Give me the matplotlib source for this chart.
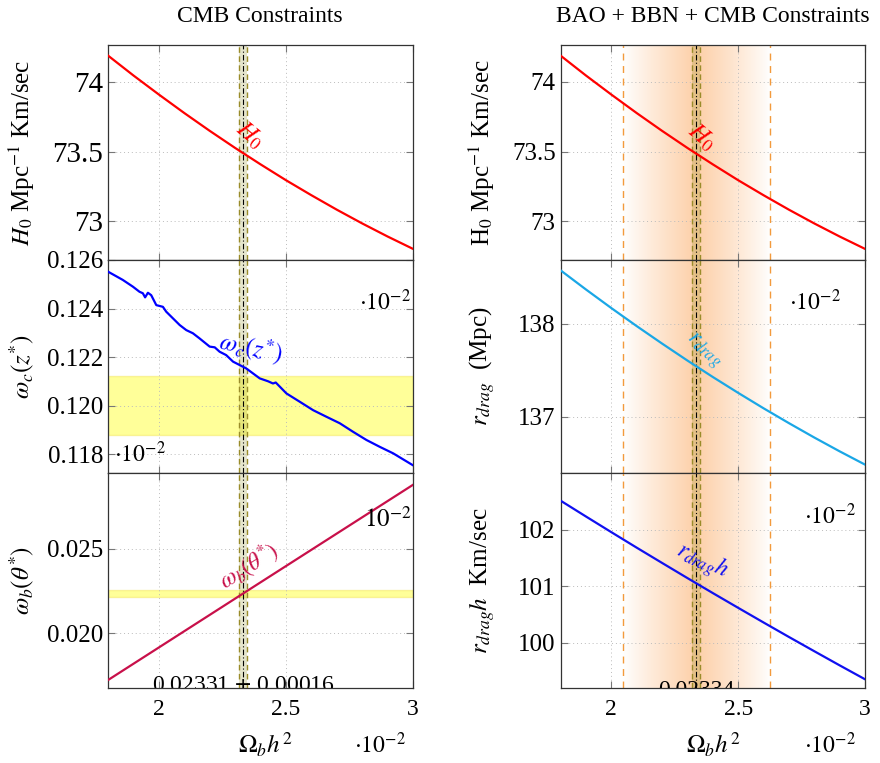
import numpy as np
import matplotlib
matplotlib.use('Agg')
import matplotlib.pyplot as plt
from matplotlib import transforms

plt.rcParams['font.family'] = ['Liberation Serif', 'DejaVu Serif']
plt.rcParams['mathtext.fontset'] = 'stix'

# x grid of Omega_b h^2 (in units of 1e-2)
x_h0 = [1.8, 1.9, 2.0, 2.1, 2.2, 2.3, 2.4, 2.5, 2.6, 2.7, 2.8, 2.9, 3.0]
h0 = [74.19, 74.047, 73.910, 73.777, 73.649, 73.526, 73.408, 73.294, 73.186, 73.082, 72.983, 72.889, 72.800]

x_wc = [1.80, 1.858, 1.898, 1.924, 1.937, 1.946, 1.957, 1.970, 1.990, 2.016, 2.029, 2.055,
        2.082, 2.108, 2.134, 2.160, 2.200, 2.220, 2.239, 2.265, 2.292, 2.344, 2.397, 2.430,
        2.449, 2.460, 2.502, 2.554, 2.607, 2.659, 2.712, 2.764, 2.817, 2.869, 2.922, 2.998]
wc = [0.12552, 0.12518, 0.12490, 0.12469, 0.12463, 0.12446, 0.12465, 0.12455, 0.12414, 0.12407,
      0.12387, 0.12360, 0.12332, 0.12311, 0.12298, 0.12277, 0.12243, 0.12240, 0.12222, 0.12208,
      0.12181, 0.12153, 0.12112, 0.12100, 0.12091, 0.12095, 0.12050, 0.12016, 0.11981, 0.11954,
      0.11927, 0.11892, 0.11858, 0.11830, 0.11803, 0.11755]

x_wb = [1.8, 2.4, 3.0]
wb = [0.01723, 0.02302, 0.02880]

x_rd = [1.8, 1.9, 2.0, 2.1, 2.2, 2.3, 2.4, 2.5, 2.6, 2.7, 2.8, 2.9, 3.0]
rdrag = [138.570, 138.365, 138.166, 137.973, 137.786, 137.604, 137.428, 137.258, 137.093,
         136.934, 136.780, 136.632, 136.490]
rdragh = [102.520, 102.239, 101.961, 101.686, 101.415, 101.146, 100.880, 100.618, 100.358,
          100.101, 99.848, 99.597, 99.350]

# constraints
cmb_c, cmb_err = 2.331, 0.016
bao_c, bao_err = 2.334, 0.017
bao_lo, bao_hi = 2.046, 2.626
wc_band = (0.11878, 0.12122)
wb_band = (0.02217, 0.02257)

W, H = 880, 763
fig = plt.figure(figsize=(W / 100, H / 100), dpi=100)

def rect(x0, x1, y0, y1):
    return [x0 / W, 1 - y1 / H, (x1 - x0) / W, (y1 - y0) / H]

rows = [(45, 260), (260, 473), (473, 688)]
cols = [(108, 413), (560.5, 865)]
axes = [[fig.add_axes(rect(c[0], c[1], r[0], r[1])) for r in rows] for c in cols]

olive = '#9a8c2a'

def style(ax, bottom=False, fs=17):
    ax.set_xlim(1.8, 3.0)
    ax.set_xticks([2.0, 2.5, 3.0])
    ax.set_xticklabels(['2', '2.5', '3'] if bottom else [])
    ax.tick_params(direction='in', top=True, right=True, length=5, color='#777777',
                   labelsize=fs, width=0.8)
    if bottom:
        ax.tick_params(axis='x', labelsize=17, pad=8)
    ax.grid(True, linestyle=(0, (1, 3)), color='#bbbbbb', linewidth=0.7)
    for s in ax.spines.values():
        s.set_color('#333333')
        s.set_linewidth(0.9)

def cmb_band(ax, c, e):
    ax.axvspan(c - e, c + e, color='#808000', alpha=0.2, lw=0, zorder=1)
    ax.axvline(c - e, color=olive, ls=(0, (4, 2.5)), lw=1.0, zorder=2)
    ax.axvline(c + e, color=olive, ls=(0, (4, 2.5)), lw=1.0, zorder=2)
    ax.axvline(c, color='black', ls=(0, (5, 2, 1, 2)), lw=0.8, zorder=2)

def bao_shade(ax):
    xs = np.linspace(bao_lo, bao_hi, 400)
    t = np.where(xs < bao_c, (xs - bao_lo) / (bao_c - bao_lo), (bao_hi - xs) / (bao_hi - bao_c))
    alpha = np.clip(t, 0, 1) ** 0.9
    img = np.zeros((1, len(xs), 4))
    img[..., 0] = 0.99
    img[..., 1] = 0.70
    img[..., 2] = 0.45
    img[..., 3] = alpha * 0.62
    y0, y1 = ax.get_ylim()
    ax.imshow(img, extent=[bao_lo, bao_hi, y0, y1], aspect='auto', zorder=0.5,
              interpolation='bilinear')
    ax.set_ylim(y0, y1)
    ax.set_xlim(1.8, 3.0)
    ax.axvline(bao_lo, color='#f39a3c', ls=(0, (5, 4)), lw=1.0, zorder=2)
    ax.axvline(bao_hi, color='#f39a3c', ls=(0, (5, 4)), lw=1.0, zorder=2)

# ---- left column
a1, a2, a3 = axes[0]
a1.plot(x_h0, h0, color='red', lw=1.6, zorder=3)
a1.set_ylim(72.72, 74.266)
a1.set_yticks([73, 73.5, 74])
a1.set_yticklabels(['73', '73.5', '74'])
a1.text(2.357, 73.62, '$H_0$', color='red', fontsize=18, rotation=-40, ha='center', va='center')

a2.axhspan(*wc_band, facecolor='yellow', alpha=0.4, edgecolor='#f2e040', lw=1, zorder=0.5)
a2.plot(x_wc, wc, color='blue', lw=1.6, zorder=3)
a2.set_ylim(0.11722, 0.126)
a2.set_yticks([0.118, 0.120, 0.122, 0.124, 0.126])
a2.set_yticklabels(['0.118', '0.120', '0.122', '0.124', '0.126'])
a2.text(2.36, 0.12237, r'$\omega_c(z^{*})$', color='blue', fontsize=18, rotation=-12,
        ha='center', va='center')
a2.text(0.908, 0.80, r'$\cdot 10^{-2}$', transform=a2.transAxes, fontsize=17, ha='center', va='center')
a2.text(0.105, 0.085, r'$\cdot 10^{-2}$', transform=a2.transAxes, fontsize=17, ha='center', va='center')

a3.axhspan(*wb_band, facecolor='yellow', alpha=0.4, edgecolor='#f2e040', lw=1, zorder=0.5)
a3.plot(x_wb, wb, color='#c8104a', lw=1.6, zorder=3)
a3.set_ylim(0.01676, 0.0295)
a3.set_yticks([0.020, 0.025])
a3.set_yticklabels(['0.020', '0.025'])
a3.text(2.357, 0.02395, r'$\omega_b(\theta^{*})$', color='#c8104a', fontsize=17, rotation=32,
        ha='center', va='center')
a3.text(0.918, 0.786, r'$10^{-2}$', transform=a3.transAxes, fontsize=18, ha='center', va='center')
tr = transforms.blended_transform_factory(a3.transData, a3.transAxes)
a3.text(2.331, -0.012, r'0.02331 $\pm$ 0.00016', transform=tr, fontsize=17, ha='center',
        va='baseline', clip_on=True)

for ax, fs in zip([a1, a2, a3], [21, 18, 18]):
    style(ax, bottom=(ax is a3), fs=fs)
    cmb_band(ax, cmb_c, cmb_err)

a1.set_ylabel(r'$H_0$ Mpc$^{-1}$ Km/sec', fontsize=18)
a2.set_ylabel(r'$\omega_c(z^{*})$', fontsize=18)
a3.set_ylabel(r'$\omega_b(\theta^{*})$', fontsize=18)
for ax in (a1, a2, a3):
    ax.yaxis.set_label_coords(-0.282, 0.5)
    ax.yaxis.label.set_va('center')

# ---- right column
b1, b2, b3 = axes[1]
b1.plot(x_h0, h0, color='red', lw=1.6, zorder=3)
b1.set_ylim(72.72, 74.266)
b1.set_yticks([73, 73.5, 74])
b1.set_yticklabels(['73', '73.5', '74'])
b1.text(2.357, 73.60, '$H_0$', color='red', fontsize=18, rotation=-40, ha='center', va='center')

b2.plot(x_rd, rdrag, color='#1aa7e6', lw=1.6, zorder=3)
b2.set_ylim(136.40, 138.68)
b2.set_yticks([137, 138])
b2.set_yticklabels(['137', '138'])
b2.text(2.365, 137.71, r'$r_{drag}$', color='#1aa7e6', fontsize=17, rotation=-40,
        ha='center', va='center')
b2.text(0.836, 0.80, r'$\cdot 10^{-2}$', transform=b2.transAxes, fontsize=17, ha='center', va='center')

b3.plot(x_rd, rdragh, color='#1010f0', lw=1.6, zorder=3)
b3.set_ylim(99.195, 103.01)
b3.set_yticks([100, 101, 102])
b3.set_yticklabels(['100', '101', '102'])
b3.text(2.357, 101.44, r'$r_{drag}h$', color='#1010f0', fontsize=17, rotation=-25,
        ha='center', va='center')
b3.text(0.885, 0.80, r'$\cdot 10^{-2}$', transform=b3.transAxes, fontsize=17, ha='center', va='center')
tr = transforms.blended_transform_factory(b3.transData, b3.transAxes)
b3.text(2.334, -0.035, '0.02334', transform=tr, fontsize=17, ha='center',
        va='baseline', clip_on=True)

for ax in (b1, b2, b3):
    style(ax, bottom=(ax is b3), fs=18)
    bao_shade(ax)
    cmb_band(ax, bao_c, bao_err)

b1.set_ylabel(r'H$_0$ Mpc$^{-1}$ Km/sec', fontsize=18)
b2.set_ylabel(r'$r_{drag}$  (Mpc)', fontsize=18)
b3.set_ylabel(r'$r_{drag}h$  Km/sec', fontsize=18)
for ax in (b1, b2, b3):
    ax.yaxis.set_label_coords(-0.258, 0.5)
    ax.yaxis.label.set_va('center')

# ---- titles and x labels
fig.text(260 / W, 1 - 16 / H, 'CMB Constraints', fontsize=17, ha='center', va='center')
fig.text(713 / W, 1 - 16 / H, 'BAO + BBN + CMB Constraints', fontsize=17, ha='center', va='center')
for cx, mx in [(265, 380), (713, 830)]:
    fig.text(cx / W, 1 - 745 / H, r'$\Omega_b h^2$', fontsize=18, ha='center', va='center')
    fig.text(mx / W, 1 - 745 / H, r'$\cdot 10^{-2}$', fontsize=17, ha='center', va='center')

fig.savefig('out.png', dpi=100)
